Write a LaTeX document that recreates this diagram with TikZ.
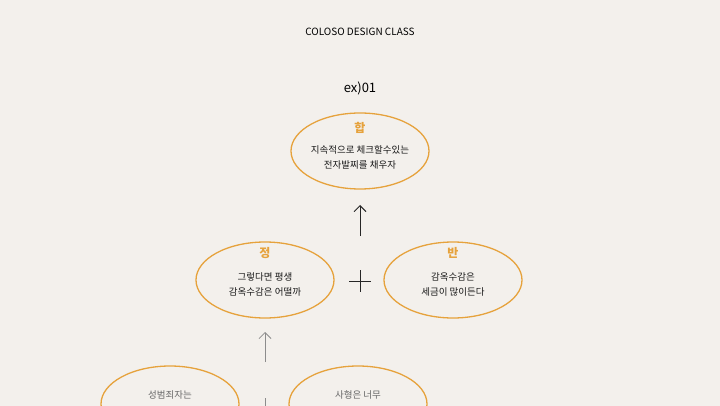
\documentclass[tikz,border=0pt]{standalone}
\usepackage{fontspec}
\setmainfont{Noto Sans CJK KR}
\usetikzlibrary{shapes.geometric,arrows.meta}
\definecolor{paper}{HTML}{F3F0EC}
\definecolor{gold}{HTML}{E6A23C}
\tikzset{
  idea/.style={draw=gold, line width=1.3pt, ellipse, minimum width=138pt, minimum height=76pt},
  head/.style={text=gold, font=\bfseries\fontsize{12}{14}\selectfont},
  body/.style={align=center, font=\fontsize{9.5}{15}\selectfont, text=black!90},
}
\begin{document}
\begin{tikzpicture}[x=1pt,y=-1pt]
            % Background
            \fill[paper] (0,0) rectangle (720,406);
            \useasboundingbox (0,0) rectangle (720,406);
            \clip (0,0) rectangle (720,406);

            % Titles
            \node[font=\fontsize{10}{12}\selectfont] (title) at (360,32) {COLOSO DESIGN CLASS};
            \node[font=\fontsize{13}{15}\selectfont] (ex) at (360,88) {ex)01};

            % Ellipses
            \node[idea] (hap) at (360,151) {};
            \node[idea] (jeong) at (265,280) {};
            \node[idea] (ban) at (453,280) {};
            \node[idea] (low1) at (170,404) {};
            \node[idea] (low2) at (358,404) {};

            % Labels
            \node[head] (hapL) at (360,128) {합};
            \node[body] (hapT) at (360,157) {지속적으로 체크할수있는\\전자발찌를 채우자};
            \node[head] (jeongL) at (265,253) {정};
            \node[body] (jeongT) at (265,284) {그렇다면 평생\\감옥수감은 어떨까};
            \node[head] (banL) at (453,253) {반};
            \node[body] (banT) at (453,284) {감옥수감은\\세금이 많이든다};
            \node[body, text=black!60] (low1T) at (170,395) {성범죄자는};
            \node[body, text=black!60] (low2T) at (358,395) {사형은 너무};

            % Arrows and plus
            \coordinate (a1) at (360,236);
            \draw[black!85, line width=0.9pt, -{Straight Barb[length=6pt,width=12pt]}] (a1) -- (hap.south |- 0,205);
            \draw[black!85, line width=0.9pt] (349,281) -- (371,281) (360,270) -- (360,292);
            \coordinate (a2) at (265,362);
            \draw[black!45, line width=0.8pt, -{Straight Barb[length=6pt,width=12pt]}] (a2) -- (jeong.south |- 0,332);
            \draw[black!45, line width=0.8pt] (265,398) -- (265,406);
\end{tikzpicture}
\end{document}
